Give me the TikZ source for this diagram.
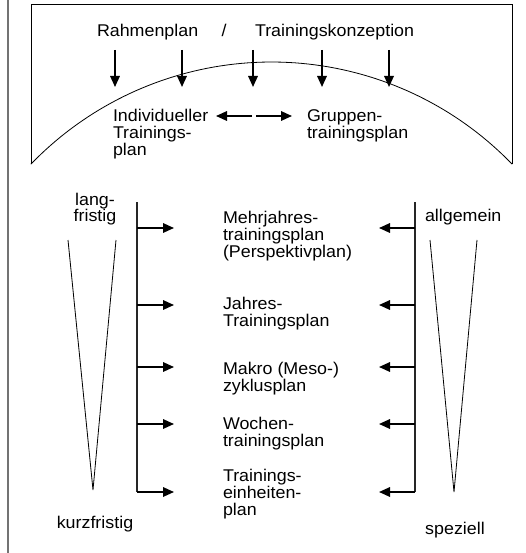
\documentclass[tikz,border=0pt]{standalone}
\usepackage{fontspec}
\setmainfont{Liberation Sans}[FakeStretch=1.05]
\usetikzlibrary{arrows.meta}
\begin{document}
\begin{tikzpicture}[x=1pt,y=-1pt,
  lbl/.style={inner sep=0pt,outer sep=0pt,font=\fontsize{17}{17}\selectfont,align=left},
  lblc/.style={lbl,align=center},
  thinln/.style={line width=0.8pt},
  axis/.style={line width=1.5pt,black!85},
  arr/.style={line width=1.7pt,-{Triangle[length=11pt,width=9.5pt]}}
]
\useasboundingbox (0,0) rectangle (526,553);
% left border line
\draw[line width=1.3pt,black!55] (8,0) -- (8,553);
% top box with arc
\draw[thinln] (31,164) -- (31,4) -- (512,4) -- (512,164);
\draw[thinln] plot[domain=-136:-44,samples=80] ({271.5+334.5*cos(\x)},{396.5+334.5*sin(\x)});
% top texts
\node[lbl,anchor=base west] (rp) at (97,37) {Rahmenplan};
\node[lbl,anchor=base] (sl) at (224,37) {/};
\node[lbl,anchor=base west] (tk) at (255,37) {Trainingskonzeption};
% top arrows
\foreach \i/\x in {1/115,2/182,3/253,4/322,5/389}{
  \coordinate (ta\i) at (\x,50);
  \coordinate (tb\i) at (\x,87);
  \draw[arr] (ta\i) -- (tb\i);
}
% multi-line nodes: anchor base = baseline of last line
\node[lbl,anchor=base west] (ind) at (113,156) {Individueller\\Trainings-\\plan};
\node[lbl,anchor=base west] (grp) at (307,139) {Gruppen-\\trainingsplan};
\coordinate (dl) at (252,116);
\coordinate (dr) at (256,116);
\coordinate (dlt) at (216,116);
\coordinate (drt) at (292,116);
\draw[arr] (dl) -- (dlt);
\draw[arr] (dr) -- (drt);
% left side
\node[lblc,anchor=base] (lang) at (95,222) {lang-\\fristig};
\node[lbl,anchor=base] (kurz) at (95,528) {kurzfristig};
\draw[thinln] (68,240) -- (93,490) -- (116,240);
\coordinate (lt) at (137,202);
\coordinate (lb) at (137,492);
\draw[axis] (lt) -- (lb);
% right side
\node[lbl,anchor=base west] (allg) at (425,222) {allgemein};
\node[lbl,anchor=base] (spez) at (455,534) {speziell};
\draw[thinln] (430,240) -- (454,492) -- (477,240);
\coordinate (rt) at (415,202);
\coordinate (rb) at (415,492);
\draw[axis] (rt) -- (rb);
% levels
\foreach \i/\y in {1/228,2/305,3/367,4/424,5/492}{
  \coordinate (la\i) at (137,\y);
  \coordinate (lc\i) at (174,\y);
  \coordinate (ra\i) at (415,\y);
  \coordinate (rc\i) at (379,\y);
  \draw[arr] (la\i) -- (lc\i);
  \draw[arr] (ra\i) -- (rc\i);
}
\node[lbl,anchor=base west] (p1) at (223,257) {Mehrjahres-\\trainingsplan\\(Perspektivplan)};
\node[lbl,anchor=base west] (p2) at (223,326) {Jahres-\\Trainingsplan};
\node[lbl,anchor=base west] (p3) at (223,391) {Makro (Meso-)\\zyklusplan};
\node[lbl,anchor=base west] (p4) at (223,446) {Wochen-\\trainingsplan};
\node[lbl,anchor=base west] (p5) at (223,515) {Trainings-\\einheiten-\\plan};
\end{tikzpicture}
\end{document}
